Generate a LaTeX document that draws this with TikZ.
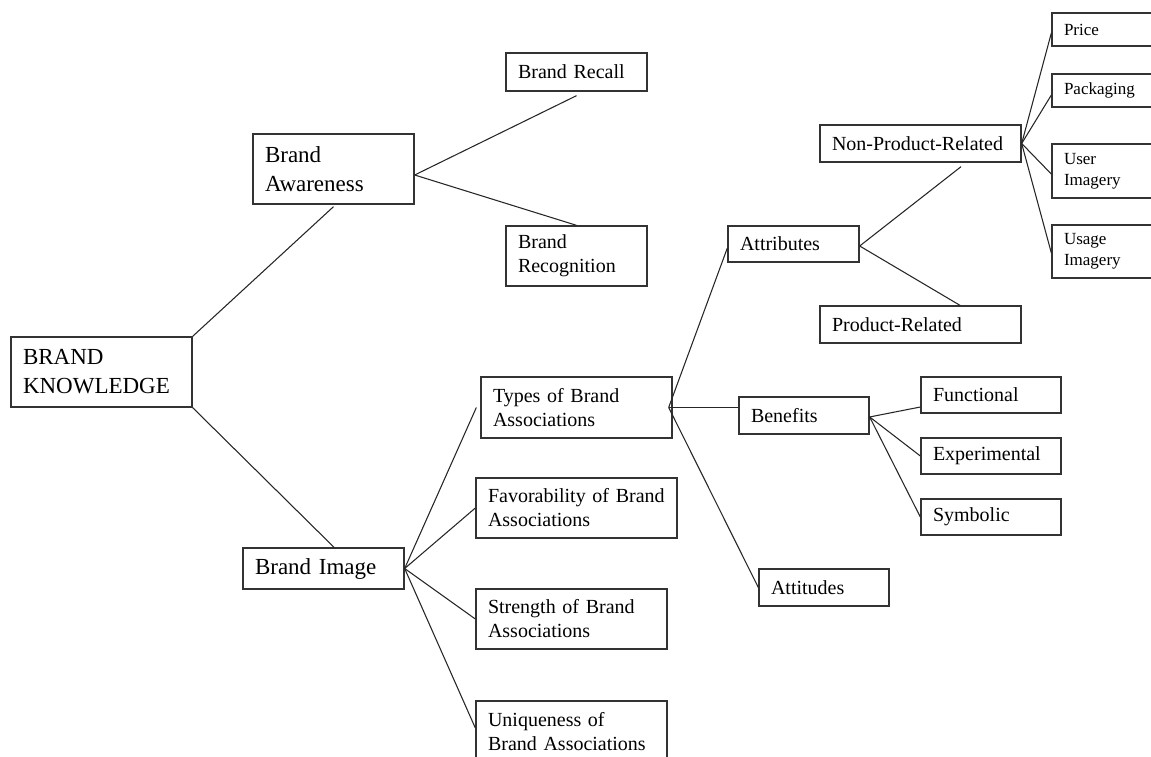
\documentclass[tikz,border=0pt]{standalone}
\usepackage{fontspec}
\setmainfont{Liberation Serif}
\usetikzlibrary{calc}
\begin{document}
\begin{tikzpicture}[x=0.75pt,y=-0.75pt,
  box/.style={draw=black!80, line width=1pt, rectangle, inner xsep=9pt,
    inner ysep=0pt, align=left, text=black},
  sz/.style 2 args={minimum width=#1*0.75pt, minimum height=#2*0.75pt,
    text width=#1*0.75pt-18pt},
  big/.style={font=\fontsize{17.25pt}{21.75pt}\selectfont},
  mid/.style={font=\fontsize{15pt}{18pt}\selectfont},
  small/.style={font=\fontsize{12.75pt}{15.75pt}\selectfont},
  link/.style={draw=black!85, line width=0.8pt}]

\useasboundingbox (0,0) rectangle (1151,756);
\clip (0,0) rectangle (1151,756);

% level 0 and 1
\node[box,big,sz={181}{70}] (bk) at (101.5,372) {BRAND\\KNOWLEDGE};
\node[box,big,sz={161}{70}] (ba) at (333.5,169) {Brand\\Awareness};
\node[box,big,sz={161}{41}] (bi) at (323.5,568.5) {Brand Image};

% brand awareness branch
\node[box,mid,sz={141}{38}] (rc) at (576.5,72) {Brand Recall};
\node[box,mid,sz={141}{60}] (rg) at (576.5,256) {Brand\\Recognition};

% brand image branch
\node[box,mid,sz={191}{61}] (ty) at (576.5,407.5) {Types of Brand\\Associations};
\node[box,mid,sz={201}{60}] (fv) at (576.5,508) {Favorability of Brand\\Associations};
\node[box,mid,sz={191}{60}] (st) at (571.5,619) {Strength of Brand\\Associations};
\node[box,mid,sz={191}{62}] (uq) at (571.5,732) {Uniqueness of\\Brand Associations};

% types of associations
\node[box,mid,sz={131}{36}] (at) at (793.5,244) {Attributes};
\node[box,mid,sz={130}{37}] (bn) at (804,415.5) {Benefits};
\node[box,mid,sz={130}{37}] (al) at (824,587.5) {Attitudes};

% attributes
\node[box,mid,sz={201}{37}] (np) at (920.5,143.5) {Non-Product-Related};
\node[box,mid,sz={201}{37}] (pr) at (920.5,324.5) {Product-Related};

% benefits
\node[box,mid,sz={140}{36}] (fn) at (991,395) {Functional};
\node[box,mid,sz={140}{36}] (ex) at (991,456) {Experimental};
\node[box,mid,sz={140}{36}] (sy) at (991,517) {Symbolic};

% non-product-related attributes
\node[box,small,sz={108}{33}] (pc) at (1106,29.5) {Price};
\node[box,small,sz={108}{33}] (pk) at (1106,90.5) {Packaging};
\node[box,small,sz={108}{54}] (ui) at (1106,171) {User\\Imagery};
\node[box,small,sz={108}{53}] (ug) at (1106,251.5) {Usage\\Imagery};

% connectors
\draw[link] (bk.north east) -- ([yshift=-1.5pt]ba.south);
\draw[link] (bk.south east) -- ([xshift=7.9pt]bi.north);

\coordinate (baf) at ([yshift=-4.5pt]ba.east);
\draw[link] (baf) -- ([yshift=-3pt]rc.south);
\draw[link] (baf) -- (rg.north);

\draw[link] (bi.east) -- ([xshift=-3pt]ty.west);
\draw[link] (bi.east) -- (fv.west);
\draw[link] (bi.east) -- (st.west);
\draw[link] (bi.east) -- ([yshift=3pt]uq.west);

\coordinate (tyf) at ([xshift=-3pt]ty.east);
\draw[link] (tyf) -- ([yshift=-3pt]at.west);
\draw[link] (tyf) -- (tyf -| bn.west);
\draw[link] (tyf) -- (al.west);

\coordinate (atf) at ([yshift=-1.5pt]at.east);
\draw[link] (atf) -- ([xshift=30.4pt,yshift=-3pt]np.south);
\draw[link] (atf) -- ([xshift=29.6pt]pr.north);

\draw[link] (np.east) -- ([yshift=-2.6pt]pc.west);
\draw[link] (np.east) -- ([yshift=-3.4pt]pk.west);
\draw[link] (np.east) -- ([yshift=-2.3pt]ui.west);
\draw[link] (np.east) -- ([yshift=-1.1pt]ug.west);

\coordinate (bnf) at ([yshift=-1.1pt]bn.east);
\draw[link] (bnf) -- ([yshift=-9pt]fn.west);
\draw[link] (bnf) -- (ex.west);
\draw[link] (bnf) -- (sy.west);
\end{tikzpicture}
\end{document}
